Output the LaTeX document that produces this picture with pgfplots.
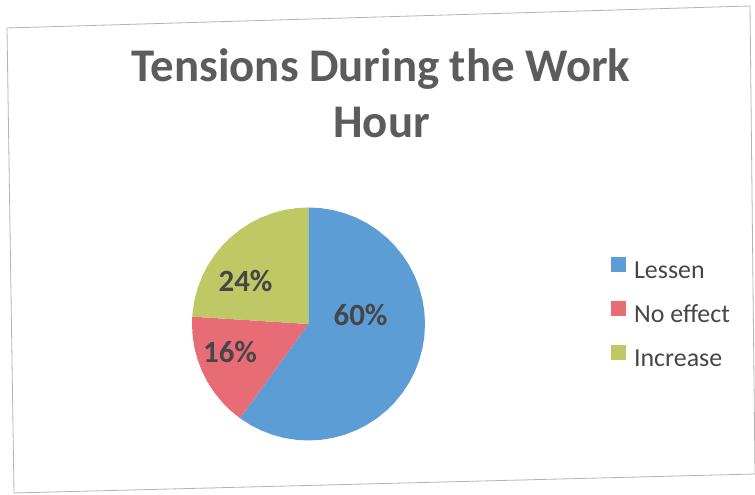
\documentclass[border=0pt]{standalone}
\usepackage{pgfplots}
\pgfplotsset{compat=1.18}
\usepgfplotslibrary{polar}
\usepackage{fontspec}
\setmainfont{Carlito}
\definecolor{cLessen}{RGB}{93,157,213}
\definecolor{cNoeffect}{RGB}{232,108,118}
\definecolor{cIncrease}{RGB}{190,200,100}
\definecolor{ctitle}{RGB}{92,92,92}
\definecolor{clabel}{RGB}{70,70,70}
\begin{document}
\begin{tikzpicture}[x=1bp,y=1bp]
\path[use as bounding box] (0,0) rectangle (755,495);
\draw[gray!60, line width=0.8bp] (7,467) -- (750,489) -- (755,21) -- (14,2) -- cycle;
% Shares: Lessen 60%, No effect 16%, Increase 24% (clockwise from 12 o'clock)
\begin{polaraxis}[
  at={(264.8,146.8)}, anchor=center,
  scale only axis, width=233bp, height=233bp,
  ymin=0, ymax=1, hide axis, clip=false,
  legend cell align=left,
  legend image code/.code={\fill[#1] (0bp,-1bp) rectangle (15bp,14bp);},
  legend style={draw=none, fill=none, at={(axis description cs:1.785,0.549)}, anchor=west,
    font=\fontsize{26}{30}\selectfont, text=clabel, row sep=21bp,
    nodes={inner sep=0pt},
    /tikz/every odd column/.append style={column sep=8bp}},
]
\addplot[fill=cLessen, draw=none] coordinates {(0,0) (90,1) (84,1) (78,1) (72,1) (66,1) (60,1) (54,1) (48,1) (42,1) (36,1) (30,1) (24,1) (18,1) (12,1) (6,1) (0,1) (-6,1) (-12,1) (-18,1) (-24,1) (-30,1) (-36,1) (-42,1) (-48,1) (-54,1) (-60,1) (-66,1) (-72,1) (-78,1) (-84,1) (-90,1) (-96,1) (-102,1) (-108,1) (-114,1) (-120,1) (-126,1) (0,0)};
\addlegendentry{Lessen}
\addplot[fill=cNoeffect, draw=none] coordinates {(0,0) (234,1) (228,1) (222,1) (216,1) (210,1) (204,1) (198,1) (192,1) (186,1) (180,1) (176.4,1) (0,0)};
\addlegendentry{No effect}
\addplot[fill=cIncrease, draw=none] coordinates {(0,0) (176.4,1) (174,1) (168,1) (162,1) (156,1) (150,1) (144,1) (138,1) (132,1) (126,1) (120,1) (114,1) (108,1) (102,1) (96,1) (90,1) (0,0)};
\addlegendentry{Increase}
\end{polaraxis}
\node[anchor=base, text=ctitle, font=\fontsize{47}{56}\selectfont\bfseries] at (381,413) {Tensions During the Work};
\node[anchor=base, text=ctitle, font=\fontsize{47}{56}\selectfont\bfseries] at (381.5,357) {Hour};
\node[anchor=base, text=clabel, font=\fontsize{31}{36}\selectfont\bfseries] at (360.5,169) {60\%};
\node[anchor=base, text=clabel, font=\fontsize{31}{36}\selectfont\bfseries] at (245.5,203) {24\%};
\node[anchor=base, text=clabel, font=\fontsize{31}{36}\selectfont\bfseries] at (230,132) {16\%};
\end{tikzpicture}
\end{document}
